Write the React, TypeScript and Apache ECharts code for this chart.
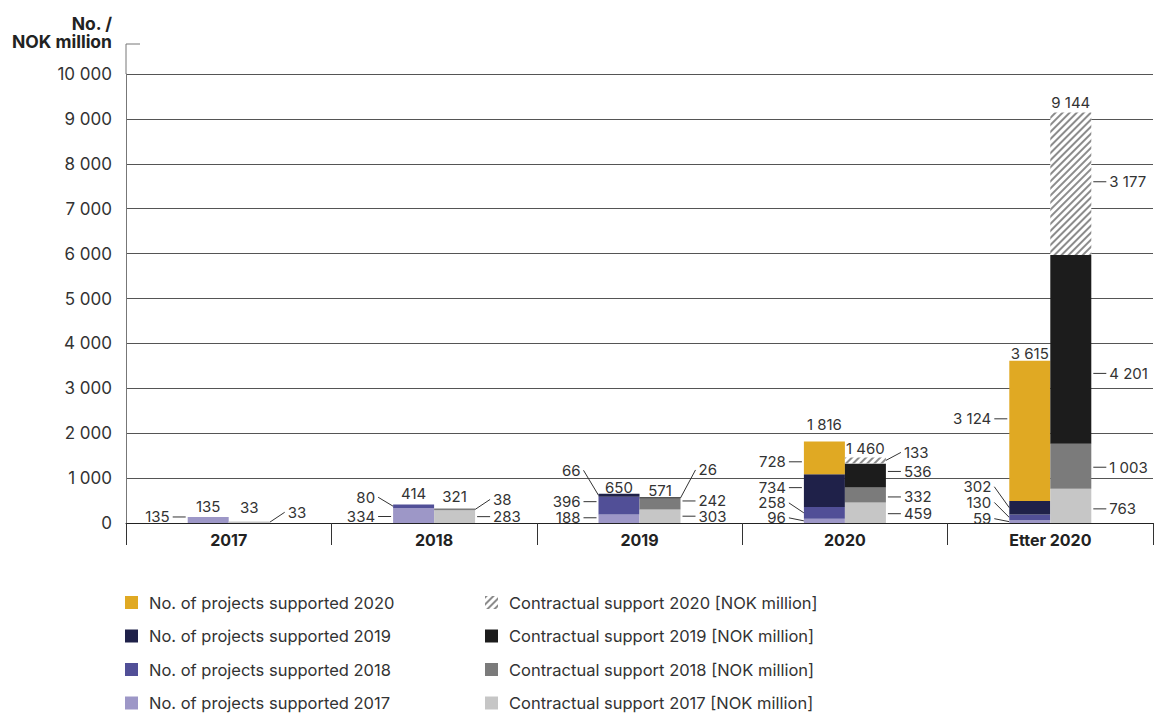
import React, { useEffect, useRef } from 'react';
import * as echarts from 'echarts';

// Categories and stacked values
const categories = ['2017', '2018', '2019', '2020', 'Etter 2020'];

const projects2017 = [135, 334, 188, 96, 59];
const projects2018 = [0, 80, 396, 258, 130];
const projects2019 = [0, 0, 66, 734, 302];
const projects2020 = [0, 0, 0, 728, 3124];

const support2017 = [33, 283, 303, 459, 763];
const support2018 = [0, 38, 242, 332, 1003];
const support2019 = [0, 0, 26, 536, 4201];
const support2020 = [0, 0, 0, 133, 3177];

const yMin = 0;
const yMax = 10000;
const yStep = 1000;

// Layout / style constants
const GRID_LEFT = 126;
const GRID_RIGHT = 2;
const GRID_TOP = 74;
const GRID_BOTTOM = 190;
const BAR_W = 41;
const FONT = 'Inter, "Noto Sans", sans-serif';
const TEXT = '#333';
const LABEL_SIZE = 15;

type StackKey = 'projects' | 'support';
interface SeriesDef {
  key: string;
  name: string;
  stack: StackKey;
  data: number[];
  color: string;
  hatch?: boolean;
}

const seriesDefs: SeriesDef[] = [
  { key: 'p17', name: 'No. of projects supported 2017', stack: 'projects', data: projects2017, color: '#9d97c7' },
  { key: 'p18', name: 'No. of projects supported 2018', stack: 'projects', data: projects2018, color: '#514f97' },
  { key: 'p19', name: 'No. of projects supported 2019', stack: 'projects', data: projects2019, color: '#1f2149' },
  { key: 'p20', name: 'No. of projects supported 2020', stack: 'projects', data: projects2020, color: '#e0a923' },
  { key: 's17', name: 'Contractual support 2017 [NOK million]', stack: 'support', data: support2017, color: '#c6c6c6' },
  { key: 's18', name: 'Contractual support 2018 [NOK million]', stack: 'support', data: support2018, color: '#7b7b7b' },
  { key: 's19', name: 'Contractual support 2019 [NOK million]', stack: 'support', data: support2019, color: '#1c1c1c' },
  { key: 's20', name: 'Contractual support 2020 [NOK million]', stack: 'support', data: support2020, color: '#ffffff', hatch: true },
];

// Segment callouts: [category index, series key, leader kind, text offset from segment middle (px)]
// 'h' = short horizontal leader at text height, 'd' = slanted leader from segment middle
const callouts: [number, string, 'h' | 'd', number][] = [
  [0, 'p17', 'h', -3],
  [1, 'p17', 'h', 1],
  [1, 'p18', 'd', -9],
  [2, 'p17', 'h', -1],
  [2, 'p18', 'h', -4],
  [2, 'p19', 'd', -25],
  [3, 'p17', 'd', -3],
  [3, 'p18', 'd', -10],
  [3, 'p19', 'h', -3],
  [3, 'p20', 'h', 4],
  [4, 'p17', 'd', -3],
  [4, 'p18', 'd', -15],
  [4, 'p19', 'd', -21],
  [4, 'p20', 'h', -12],
  [0, 's17', 'd', -10],
  [1, 's17', 'h', 0],
  [1, 's18', 'd', -10],
  [2, 's17', 'h', 0],
  [2, 's18', 'h', -3],
  [2, 's19', 'd', -28],
  [3, 's17', 'h', 1],
  [3, 's18', 'h', 2],
  [3, 's19', 'h', -4],
  [3, 's20', 'd', -8],
  [4, 's17', 'h', 3],
  [4, 's18', 'h', 1],
  [4, 's19', 'h', 24],
  [4, 's20', 'h', -2],
];

// Offsets of the stack-total labels above each bar (px)
const totalOffsets: Record<StackKey, number[]> = {
  projects: [-10, -11, -6, -17, -7],
  support: [-14, -12, -7, -9, -10],
};

const fmt = (v: number) => String(Math.round(v)).replace(/\B(?=(\d{3})+(?!\d))/g, ' ');

const hatchDecal = {
  symbol: 'rect',
  symbolSize: 1,
  color: '#8c8c8c',
  backgroundColor: '#ffffff',
  dashArrayX: [1, 0],
  dashArrayY: [1.5, 2.6],
  rotation: -Math.PI / 4,
};

export default function App() {
  const ref = useRef<HTMLDivElement>(null);

  useEffect(() => {
    if (!ref.current) return;
    const chart = echarts.init(ref.current, null, { renderer: 'svg' });

    const legendBase = {
      orient: 'vertical' as const,
      top: 594,
      height: 160,
      padding: 0,
      itemWidth: 13,
      itemHeight: 13,
      itemGap: 16.5,
      icon: 'rect',
      selectedMode: false,
      textStyle: { fontSize: 16.5, color: TEXT, fontFamily: FONT, lineHeight: 16, padding: [0, 0, 0, 6] },
    };

    chart.setOption({
      animation: false,
      backgroundColor: '#ffffff',
      textStyle: { fontFamily: FONT },
      grid: {
        left: GRID_LEFT,
        right: GRID_RIGHT,
        top: GRID_TOP,
        bottom: GRID_BOTTOM,
        containLabel: false,
        outerBoundsMode: 'none',
      },
      legend: [
        {
          ...legendBase,
          left: 125,
          data: ['p20', 'p19', 'p18', 'p17'].map((k) => seriesDefs.find((s) => s.key === k)!.name),
        },
        {
          ...legendBase,
          left: 485,
          data: ['s20', 's19', 's18', 's17'].map((k) => seriesDefs.find((s) => s.key === k)!.name),
        },
      ],
      xAxis: {
        type: 'category',
        data: categories,
        boundaryGap: true,
        axisLine: { show: true, lineStyle: { color: '#222', width: 1 } },
        axisTick: { show: true, length: 22, alignWithLabel: false, lineStyle: { color: '#333', width: 1 } },
        axisLabel: { fontSize: 16, fontWeight: 'bold', color: '#222', fontFamily: FONT, margin: 9 },
        splitLine: { show: false },
      },
      yAxis: {
        type: 'value',
        min: yMin,
        max: yMax,
        interval: yStep,
        name: 'No. /\nNOK million',
        nameLocation: 'end',
        nameGap: 24,
        nameTextStyle: {
          align: 'right',
          verticalAlign: 'bottom',
          padding: [0, 14, 0, 0],
          lineHeight: 18,
          fontSize: 17.5,
          fontWeight: 'bold',
          color: '#222',
          fontFamily: FONT,
        },
        axisLine: { show: true, lineStyle: { color: '#777', width: 1 } },
        axisTick: { show: false },
        axisLabel: { fontSize: 17, color: TEXT, fontFamily: FONT, margin: 14, formatter: (v: number) => fmt(v) },
        splitLine: { show: true, lineStyle: { color: '#555', width: 1 } },
      },
      series: seriesDefs.map((s) => ({
        type: 'bar',
        name: s.name,
        stack: s.stack,
        data: s.data,
        barWidth: BAR_W,
        barGap: '0%',
        itemStyle: s.hatch ? { color: s.color, decal: hatchDecal } : { color: s.color },
        emphasis: { disabled: true },
      })),
    });

    // Value labels with leader lines, positioned through the chart's own scales
    const toPx = (ci: number, v: number) => chart.convertToPixel({ gridIndex: 0 }, [ci, v]) as number[];
    const g: any[] = [];
    const addLine = (x1: number, y1: number, x2: number, y2: number, stroke = '#333') =>
      g.push({ type: 'line', silent: true, shape: { x1, y1, x2, y2 }, style: { stroke, lineWidth: 1 } });
    const addText = (x: number, y: number, str: string, align: string) =>
      g.push({
        type: 'text',
        silent: true,
        x,
        y,
        style: { text: str, align, verticalAlign: 'middle', fill: TEXT, fontSize: LABEL_SIZE, fontFamily: FONT },
      });

    const stackBase = (ci: number, key: string) => {
      const def = seriesDefs.find((s) => s.key === key)!;
      let base = 0;
      for (const s of seriesDefs) {
        if (s.key === key) break;
        if (s.stack === def.stack) base += s.data[ci];
      }
      return { def, base };
    };

    callouts.forEach(([ci, key, kind, dy]) => {
      const { def, base } = stackBase(ci, key);
      const v = def.data[ci];
      const xc = toPx(ci, 0)[0];
      const yMid = toPx(ci, base + v / 2)[1];
      const dir = def.stack === 'projects' ? -1 : 1;
      const edge = def.stack === 'projects' ? xc - BAR_W : xc + BAR_W;
      const ty = yMid + dy;
      if (kind === 'h') addLine(edge + dir * 2, ty, edge + dir * 15, ty);
      else addLine(edge, yMid, edge + dir * 15, ty);
      addText(edge + dir * 18, ty, fmt(v), dir < 0 ? 'right' : 'left');
    });

    (['projects', 'support'] as StackKey[]).forEach((stack) => {
      categories.forEach((_, ci) => {
        const total = seriesDefs.filter((s) => s.stack === stack).reduce((a, s) => a + s.data[ci], 0);
        const [xc, yTop] = toPx(ci, total);
        const x = stack === 'projects' ? xc - BAR_W / 2 : xc + BAR_W / 2;
        addText(x, yTop + totalOffsets[stack][ci], fmt(total), 'center');
      });
    });

    // Value axis runs a little past its last tick, ending in a short cap
    const yTopTick = toPx(0, yMax)[1];
    const capY = yTopTick - 30;
    addLine(GRID_LEFT, capY, GRID_LEFT, yTopTick, '#777');
    addLine(GRID_LEFT, capY, GRID_LEFT + 14, capY, '#777');

    chart.setOption({ graphic: { elements: g } });

    return () => chart.dispose();
  }, []);

  return <div ref={ref} style={{ position: 'fixed', left: 0, top: 0, width: 1155, height: 713 }} />;
}
